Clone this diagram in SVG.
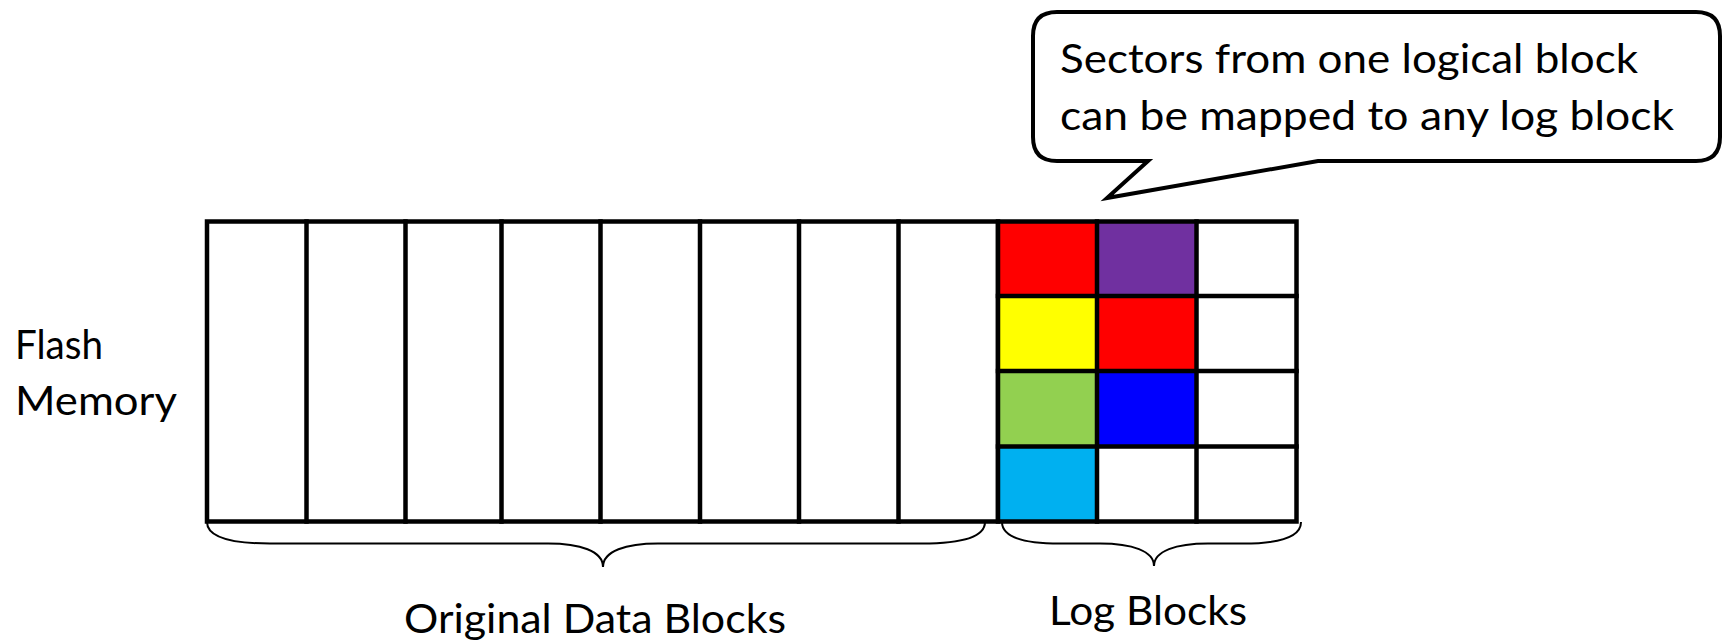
<svg xmlns="http://www.w3.org/2000/svg" width="1725" height="642" viewBox="0 0 1725 642">
  <style>
    .lbl { font-family: Lato, "Open Sans", "Liberation Sans", sans-serif; font-size: 41px; fill: #000; }
    .grid { fill: none; stroke: #000; stroke-width: 4.5; stroke-linecap: square; }
    .cell { stroke: none; }
    .brace { fill: none; stroke: #000; stroke-width: 2; }
    .callout { fill: #fff; stroke: #000; stroke-width: 4; stroke-linejoin: miter; }
  </style>

  <rect width="1725" height="642" fill="#fff"/>

  <!-- side label -->
  <g id="flash-memory-label">
    <text class="lbl" x="15" y="359" textLength="88" lengthAdjust="spacingAndGlyphs">Flash</text>
    <text class="lbl" x="15" y="415" textLength="162" lengthAdjust="spacingAndGlyphs">Memory</text>
  </g>

  <!-- original data blocks: eight tall columns -->
  <g id="data-blocks">
    <rect class="grid" x="207" y="221.5" width="791" height="300"/>
    <path class="grid" d="M306.5,221.5V521.5 M405.5,221.5V521.5 M501.5,221.5V521.5 M600.5,221.5V521.5 M700,221.5V521.5 M799,221.5V521.5 M898.5,221.5V521.5"/>
  </g>

  <!-- log blocks: three columns of four sectors -->
  <g id="log-blocks">
    <rect class="cell" x="998" y="221.5" width="99" height="74.5" fill="#FF0000"/>
    <rect class="cell" x="998" y="296" width="99" height="75" fill="#FFFF00"/>
    <rect class="cell" x="998" y="371" width="99" height="75.5" fill="#92D050"/>
    <rect class="cell" x="998" y="446.5" width="99" height="75" fill="#00B0F0"/>
    <rect class="cell" x="1097" y="221.5" width="99.5" height="74.5" fill="#7030A0"/>
    <rect class="cell" x="1097" y="296" width="99.5" height="75" fill="#FF0000"/>
    <rect class="cell" x="1097" y="371" width="99.5" height="75.5" fill="#0000FF"/>
    <rect class="grid" x="998" y="221.5" width="298.5" height="300"/>
    <path class="grid" d="M1097,221.5V521.5 M1196.5,221.5V521.5 M998,296H1296.5 M998,371H1296.5 M998,446.5H1296.5"/>
  </g>

  <!-- braces under each block group -->
  <g id="braces">
    <path class="brace" d="M207,522 C207,536 228,543.5 270,543.5 L548,543.5 C580,543.5 603,551 603,567 C603,551 626,543.5 658,543.5 L922,543.5 C964,543.5 985,536 985,522"/>
    <path class="brace" d="M1002,522 C1002,536 1022,543.5 1060,543.5 L1100,543.5 C1132,543.5 1154,551 1154,566 C1154,551 1176,543.5 1208,543.5 L1243,543.5 C1281,543.5 1301,536 1301,522"/>
  </g>

  <g id="original-data-blocks-label">
    <text class="lbl" x="404" y="633" textLength="382" lengthAdjust="spacingAndGlyphs">Original Data Blocks</text>
  </g>
  <g id="log-blocks-label">
    <text class="lbl" x="1049" y="625" textLength="198" lengthAdjust="spacingAndGlyphs">Log Blocks</text>
  </g>

  <!-- speech bubble pointing at the log blocks -->
  <g id="callout">
    <path class="callout" d="M1057,12 H1696 Q1720,12 1720,36 V137 Q1720,161 1696,161 H1318 L1107,198 L1148,161 H1057 Q1033,161 1033,137 V36 Q1033,12 1057,12 Z"/>
    <text class="lbl" x="1060" y="73" textLength="578" lengthAdjust="spacingAndGlyphs">Sectors from one logical block</text>
    <text class="lbl" x="1060" y="130" textLength="614" lengthAdjust="spacingAndGlyphs">can be mapped to any log block</text>
  </g>
</svg>
